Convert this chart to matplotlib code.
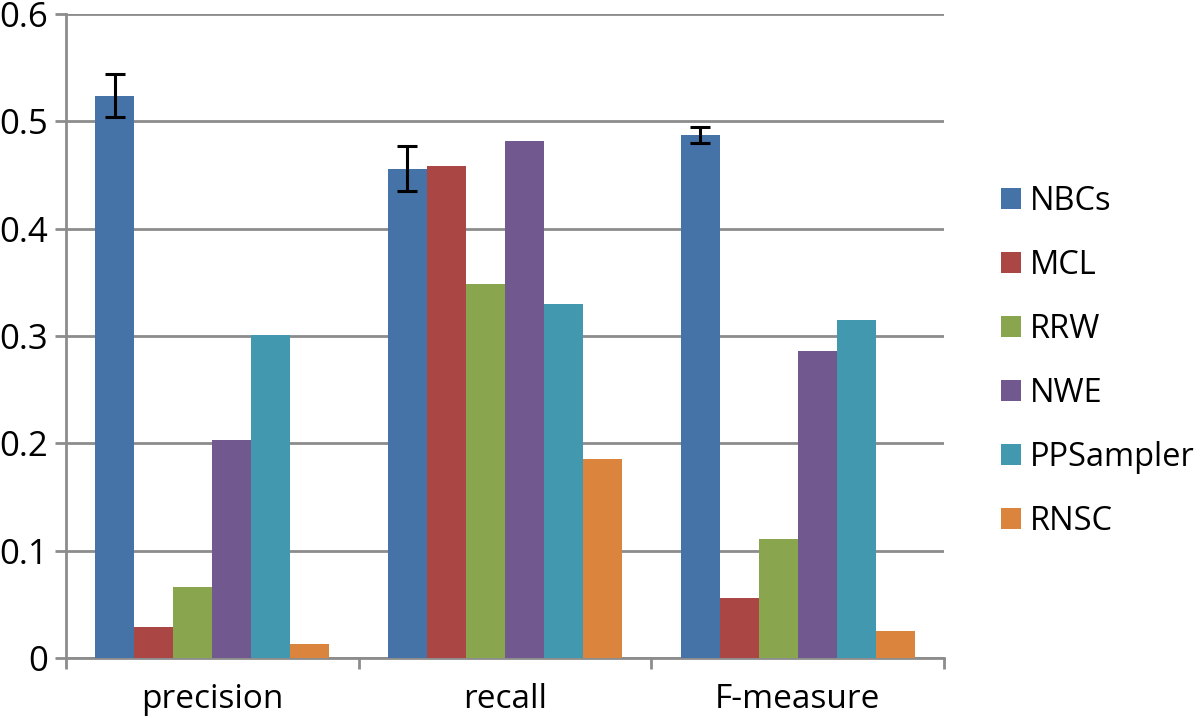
import numpy as np
import matplotlib
matplotlib.use("Agg")
import matplotlib.pyplot as plt

plt.rcParams['font.family'] = ['Open Sans', 'DejaVu Sans']

# --- data ---
categories = ['precision', 'recall', 'F-measure']
methods = ['NBCs', 'MCL', 'RRW', 'NWE', 'PPSampler', 'RNSC']
nbcs = [0.524, 0.456, 0.487]
mcl = [0.029, 0.458, 0.056]
rrw = [0.066, 0.348, 0.111]
nwe = [0.203, 0.482, 0.286]
ppsampler = [0.301, 0.330, 0.315]
rnsc = [0.013, 0.185, 0.025]
nbcs_err = [0.020, 0.021, 0.0075]

colors = ['#4572A7', '#AA4643', '#89A54E', '#71588F', '#4198AF', '#DB843D']
series = [nbcs, mcl, rrw, nwe, ppsampler, rnsc]

fig = plt.figure(figsize=(12, 7.18), dpi=100)
ax = fig.add_axes([0.055, 0.0836, 0.7317, 0.8969])

grid_col = '#8c8c8c'
n = len(methods)
bw = 1.0 / (n + 1.5)  # excel gap width 150%
x = np.arange(len(categories))
for i, (vals, c, name) in enumerate(zip(series, colors, methods)):
    pos = x - 0.5 + 0.75 * bw + (i + 0.5) * bw
    ax.bar(pos, vals, width=bw, color=c, label=name, zorder=3)
    if i == 0:
        ax.errorbar(pos, vals, yerr=nbcs_err, fmt='none', ecolor='black',
                    elinewidth=2.2, capsize=7, capthick=2.2, zorder=4)

ax.set_xlim(-0.5, len(categories) - 0.5)
ax.set_ylim(0, 0.6)
ax.set_yticks(np.arange(0, 0.61, 0.1))
ax.set_yticklabels(['0', '0.1', '0.2', '0.3', '0.4', '0.5', '0.6'])
ax.yaxis.grid(True, color=grid_col, linewidth=2, zorder=0)
ax.set_axisbelow(True)

# category ticks at the boundaries, labels centred
ax.set_xticks(np.arange(-0.5, len(categories), 1.0))
ax.set_xticklabels([])
ax.set_xticks(x, minor=True)
ax.set_xticklabels(categories, minor=True)
ax.tick_params(axis='x', which='minor', length=0, pad=18, labelsize=24)
ax.tick_params(axis='x', which='major', length=8, width=2, color=grid_col)
ax.tick_params(axis='y', length=8, width=2, color=grid_col, labelsize=25, pad=5)

for s in ['top', 'right']:
    ax.spines[s].set_visible(False)
for s in ['left', 'bottom']:
    ax.spines[s].set_color(grid_col)
    ax.spines[s].set_linewidth(2)

fig.legend(*ax.get_legend_handles_labels(), loc='center left',
           bbox_to_anchor=(0.834, 0.4965), bbox_transform=fig.transFigure,
           frameon=False, fontsize=23.5, handlelength=0.62, handleheight=0.62,
           handletextpad=0.28, labelspacing=0.95, borderaxespad=0, borderpad=0)

fig.savefig('out.png', dpi=100)
